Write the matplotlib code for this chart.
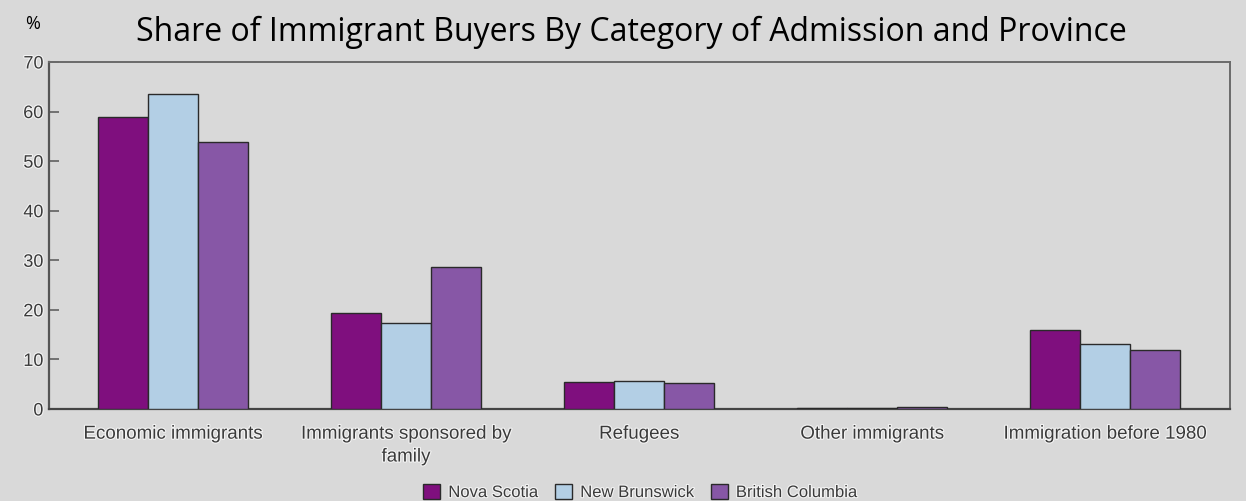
import numpy as np
import matplotlib
matplotlib.use('Agg')
import matplotlib.pyplot as plt
import matplotlib.patheffects as pe

categories = ['Economic immigrants', 'Immigrants sponsored by\nfamily', 'Refugees',
              'Other immigrants', 'Immigration before 1980']
provinces = ['Nova Scotia', 'New Brunswick', 'British Columbia']
nova_scotia = [59.0, 19.4, 5.5, 0.2, 15.9]
new_brunswick = [63.5, 17.4, 5.6, 0.3, 13.2]
british_columbia = [53.8, 28.6, 5.2, 0.5, 11.9]
colors = ['#7f0f7e', '#b3cfe5', '#8757a6']
yticks = [0, 10, 20, 30, 40, 50, 60, 70]

bg = '#d9d9d9'
txt = '#3a3a3a'
halo = [pe.withStroke(linewidth=1.6, foreground='#f4f4f4')]

fig = plt.figure(figsize=(12.46, 5.01), dpi=100, facecolor=bg)
ax = fig.add_axes([49 / 1246, 92 / 501, 1181 / 1246, 347 / 501], facecolor=bg)

x = np.arange(len(categories))
w = 0.2146
for i, (vals, name) in enumerate(zip([nova_scotia, new_brunswick, british_columbia], provinces)):
    ax.bar(x + (i - 1) * w, vals, w, color=colors[i], edgecolor='#2a2a2a',
           linewidth=1.0, label=name, zorder=3)

ax.set_xlim(-0.532, 4.536)
ax.set_ylim(0, 70)
ax.set_yticks(yticks)
ax.set_xticks(x)
ax.set_xticklabels(categories, fontsize=13.5, color=txt, family='Liberation Sans',
                   path_effects=halo, linespacing=1.45)
for lab in ax.get_yticklabels():
    lab.set_fontsize(13)
    lab.set_color(txt)
    lab.set_family('Liberation Sans')
    lab.set_path_effects(halo)
ax.tick_params(axis='y', direction='in', length=7, width=1.2, color='#606060', pad=4)
ax.tick_params(axis='x', length=0, pad=12)

for side in ['top', 'right']:
    ax.spines[side].set_color('#6a6a6a')
    ax.spines[side].set_linewidth(1.4)
ax.spines['left'].set_color('#555555')
ax.spines['left'].set_linewidth(1.6)
ax.spines['bottom'].set_color('#444444')
ax.spines['bottom'].set_linewidth(1.6)

fig.text(0.507, 0.935, 'Share of Immigrant Buyers By Category of Admission and Province',
         ha='center', va='center', fontsize=23, family='Open Sans', color='black')
fig.text(0.026, 0.952, '%', ha='center', va='center', fontsize=13,
         family='Open Sans', color='black')

leg = fig.legend(loc='center', bbox_to_anchor=(0.514, 0.018), ncol=3, frameon=False,
                 handlelength=1.0, handleheight=1.0, handletextpad=0.5,
                 columnspacing=1.0, prop={'family': 'Liberation Sans', 'size': 12})
for t in leg.get_texts():
    t.set_color(txt)
    t.set_path_effects(halo)

fig.savefig('out.png', dpi=100, facecolor=bg)
